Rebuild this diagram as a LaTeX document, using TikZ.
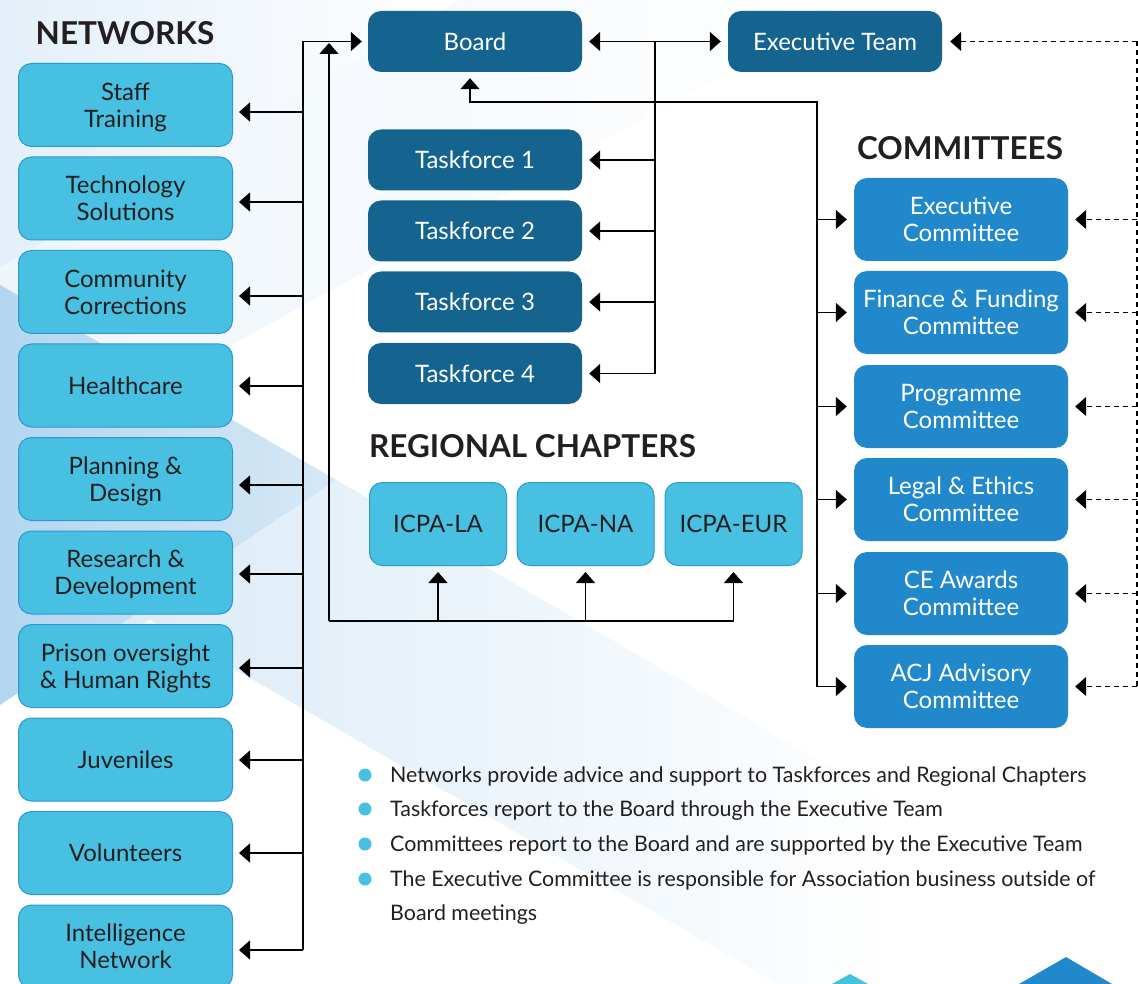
\documentclass[tikz,border=0pt]{standalone}
\usepackage{fontspec}
\setmainfont{Lato}
\usetikzlibrary{arrows.meta}
\definecolor{darkb}{HTML}{15648F}
\definecolor{medb}{HTML}{2189CB}
\definecolor{cyanfill}{HTML}{48C0E1}
\definecolor{cyanline}{HTML}{2C98D4}
\definecolor{txt}{HTML}{231F20}
\definecolor{bgA}{HTML}{E4EFF9}
\definecolor{bgB}{HTML}{D6E8F6}
\definecolor{bgC}{HTML}{B3D6EF}
\definecolor{bgW}{HTML}{EEF5FB}
\tikzset{
  boxbase/.style={rounded corners=13pt, align=center, inner sep=0pt, text depth=0pt,
    font=\fontsize{24}{27}\selectfont},
  netbox/.style={boxbase, draw=cyanline, line width=1pt, fill=cyanfill, text=txt,
    minimum width=214pt, minimum height=83pt},
  regbox/.style={boxbase, draw=cyanline, line width=1pt, fill=cyanfill, text=txt,
    minimum width=137pt, minimum height=83pt},
  darkbox/.style={boxbase, fill=darkb, text=white, minimum width=214pt, minimum height=61pt},
  combox/.style={boxbase, fill=medb, text=white, minimum width=214pt, minimum height=83pt},
  heading/.style={text=txt, inner sep=0pt, font=\bfseries\fontsize{31.5}{36}\selectfont},
  conn/.style={line width=1.4pt, draw=black},
  arr/.style={conn, -{Triangle[length=11pt,width=19pt]}},
  darr/.style={conn, {Triangle[length=11pt,width=19pt]}-{Triangle[length=11pt,width=19pt]}},
  dashedconn/.style={line width=1.3pt, draw=black, dash pattern=on 5pt off 4pt},
  dashedarr/.style={dashedconn, -{Triangle[length=11pt,width=19pt]}},
  bulletdot/.style={circle, fill=cyanfill, minimum size=13pt, inner sep=0pt},
  btext/.style={text=txt, inner sep=0pt, anchor=base west, font=\fontsize{21.4}{25}\selectfont}
}
\begin{document}
\begin{tikzpicture}[x=1pt,y=-1pt]
\useasboundingbox (0,0) rectangle (1138,984);
\clip (0,0) rectangle (1138,984);
% background washes
\shade[left color=bgW, right color=white] (0,0) -- (860,0) -- (0,472) -- cycle;
\shade[left color=bgA, right color=white] (0,0) -- (460,0) -- (0,267) -- cycle;
\shade[left color=bgB, right color=white] (0,285) -- (900,807) -- (900,1055) -- (150,620) -- (0,703) -- cycle;
\shade[left color=bgC, right color=bgB] (0,285) -- (336,480) -- (0,705) -- cycle;
% bottom-right decoration
\fill[cyanfill] (832,984) -- (850,974) -- (868,984) -- cycle;
\fill[medb] (1019,984) -- (1066,957) -- (1112,984) -- cycle;

% headings
\node[heading] (hnet) at (125,33) {NETWORKS};
\node[heading] (hcom) at (960,148) {COMMITTEES};
\node[heading, anchor=west] (hreg) at (369,446) {REGIONAL CHAPTERS};

% networks
\node[netbox] (n1) at (125.5,105) {Staff\\Training};
\node[netbox] (n2) at (125.5,198.5) {Technology\\Solutions};
\node[netbox] (n3) at (125.5,292) {Community\\Corrections};
\node[netbox] (n4) at (125.5,385.5) {Healthcare};
\node[netbox] (n5) at (125.5,479) {Planning \&\\Design};
\node[netbox] (n6) at (125.5,572.5) {Research \&\\Development};
\node[netbox] (n7) at (125.5,666) {Prison oversight\\\& Human Rights};
\node[netbox] (n8) at (125.5,759.5) {Juveniles};
\node[netbox] (n9) at (125.5,853) {Volunteers};
\node[netbox] (n10) at (125.5,946.5) {Intelligence\\Network};

% board, exec team, taskforces
\node[darkbox] (board) at (475,41.5) {Board};
\node[darkbox] (exec) at (835,41.5) {Executive Team};
\node[darkbox] (t1) at (475,160) {Taskforce 1};
\node[darkbox] (t2) at (475,231) {Taskforce 2};
\node[darkbox] (t3) at (475,302) {Taskforce 3};
\node[darkbox] (t4) at (475,373.5) {Taskforce 4};

% regional chapters
\node[regbox] (r1) at (438,524) {ICPA-LA};
\node[regbox] (r2) at (585.5,524) {ICPA-NA};
\node[regbox] (r3) at (733.5,524) {ICPA-EUR};

% committees
\node[combox] (c1) at (961,219.5) {Executive\\Committee};
\node[combox] (c2) at (961,312.5) {Finance \& Funding\\Committee};
\node[combox] (c3) at (961,406.5) {Programme\\Committee};
\node[combox] (c4) at (961,499.5) {Legal \& Ethics\\Committee};
\node[combox] (c5) at (961,593.5) {CE Awards\\Committee};
\node[combox] (c6) at (961,686.5) {ACJ Advisory\\Committee};

% network spine
\coordinate (s1) at (303,112);
\coordinate (s2) at (303,202);
\coordinate (s3) at (303,296);
\coordinate (s4) at (303,386);
\coordinate (s5) at (303,485);
\coordinate (s6) at (303,574);
\coordinate (s7) at (303,668);
\coordinate (s8) at (303,760);
\coordinate (s9) at (303,853);
\coordinate (s10) at (303,950);
\draw[arr, shorten >=6pt] (s10) |- (board.west);
\foreach \i in {1,...,10} {
  \draw[arr, shorten >=6pt] (s\i) -- (s\i -| n\i.east);
}

% regional chapters spine
\coordinate (rc) at (329,621);
\coordinate (rtop) at (329,43);
\draw[arr] (rc) -- (rtop);
\draw[conn] (rc) -- (rc -| r3.south);
\foreach \i in {1,2,3} {
  \draw[arr, shorten >=6pt] (rc -| r\i.south) -- (r\i.south);
}

% board - executive team, taskforces
\draw[darr, shorten <=7pt, shorten >=7pt] (board.east) -- (exec.west);
\coordinate (tj) at (655,41.5);
\draw[conn] (tj) -- (tj |- t4.east);
\foreach \i in {1,2,3,4} {
  \draw[arr, shorten >=7pt] (tj |- t\i.east) -- (t\i.east);
}

% committees to board
\coordinate (cbot) at (817,686.5);
\coordinate (cb) at (817,102);
\coordinate (bt) at (470,102);
\draw[arr, shorten >=6pt] (cbot) -- (cb) -- (bt) -- (bt |- board.south);
\foreach \i in {1,...,6} {
  \draw[arr, shorten >=7pt] (cbot |- c\i.west) -- (c\i.west);
}

% dashed support lines
\coordinate (dtop) at (1137,41.5);
\coordinate (dbot) at (1137,686.5);
\draw[dashedconn] (dtop) -- (dbot);
\draw[dashedarr, shorten >=8pt] (dtop) -- (exec.east);
\foreach \i in {1,...,6} {
  \draw[dashedarr, shorten >=7pt] (dtop |- c\i.east) -- (c\i.east);
}

% bullets
\node[bulletdot] (b1) at (365,775) {};
\node[bulletdot] (b2) at (365,809) {};
\node[bulletdot] (b3) at (365,844) {};
\node[bulletdot] (b4) at (365,879) {};
\node[btext] (bt1) at (390,782) {Networks provide advice and support to Taskforces and Regional Chapters};
\node[btext] (bt2) at (390,816) {Taskforces report to the Board through the Executive Team};
\node[btext] (bt3) at (390,851) {Committees report to the Board and are supported by the Executive Team};
\node[btext] (bt4) at (390,886) {The Executive Committee is responsible for Association business outside of};
\node[btext] (bt5) at (390,920) {Board meetings};
\end{tikzpicture}
\end{document}
